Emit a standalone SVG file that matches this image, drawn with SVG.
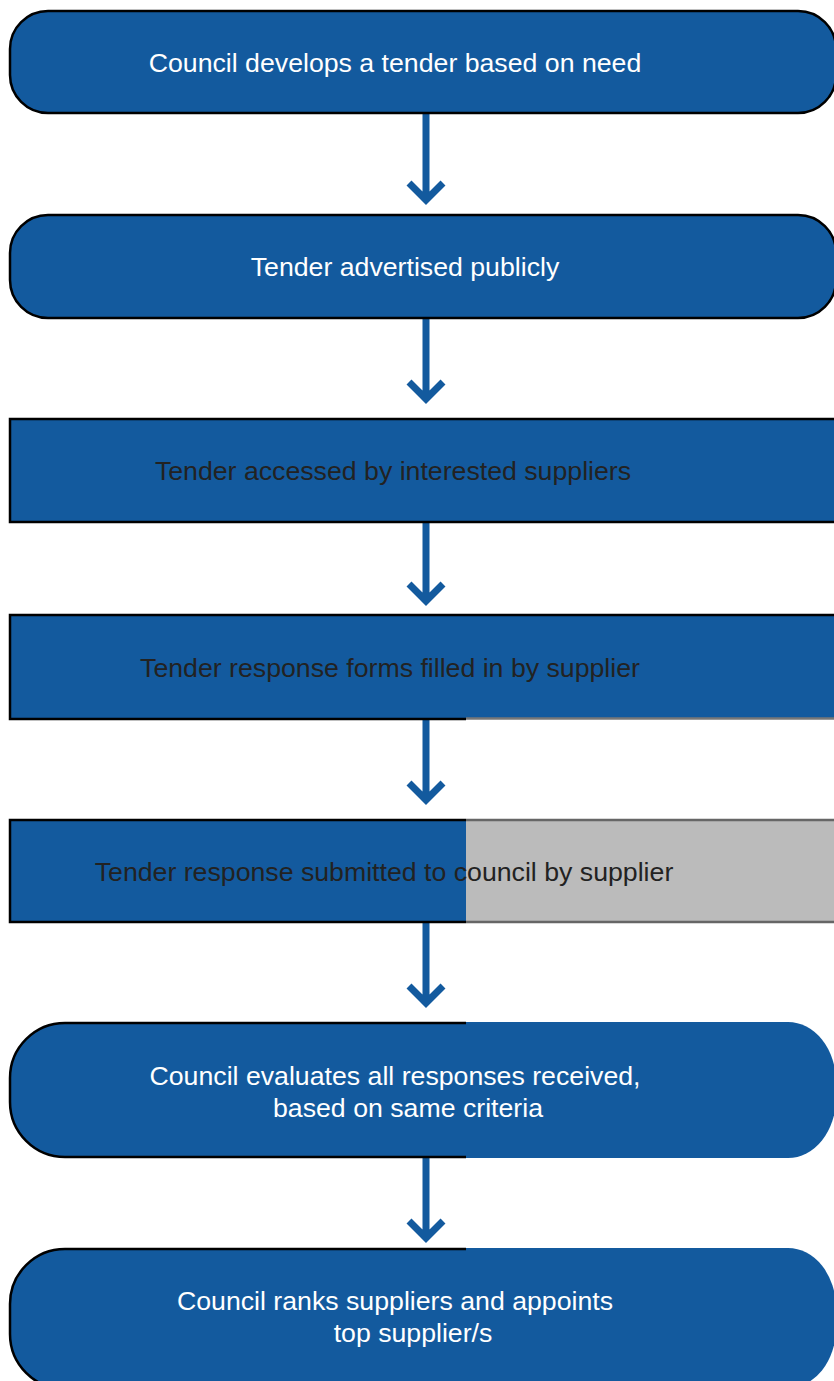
<svg xmlns="http://www.w3.org/2000/svg" width="834" height="1381" viewBox="0 0 834 1381">
<style>
.box{fill:#135a9e;stroke:#000;stroke-width:2.5}
.boxr{fill:#135a9e;stroke:none}
.tw{font-family:"Liberation Sans",Arial,sans-serif;font-size:26.7px;fill:#fff;text-anchor:middle}
.td{font-family:"Liberation Sans",Arial,sans-serif;font-size:26.7px;fill:#222;text-anchor:middle}
.arr{fill:none;stroke:#135a9e;stroke-width:7}
</style>
<defs>
<clipPath id="L"><rect x="0" y="0" width="466" height="1381"/></clipPath>
<clipPath id="R"><rect x="466" y="0" width="368" height="1381"/></clipPath>
</defs>
<rect width="834" height="1381" fill="#fff"/>
<g id="connectors">
<path class="arr" d="M426 113V199M409 183L426 200L443 183"/>
<path class="arr" d="M426 318V398M409 382L426 399L443 382"/>
<path class="arr" d="M426 522V600M409 584L426 601L443 584"/>
<path class="arr" d="M426 719V799M409 783L426 800L443 783"/>
<path class="arr" d="M426 922V1002M409 986L426 1003L443 986"/>
<path class="arr" d="M426 1157V1237M409 1221L426 1238L443 1221"/>
</g>
<g id="n1">
<rect class="box" x="10" y="11" width="826" height="102" rx="38" ry="38"/>
<text class="tw" x="395" y="72">Council develops a tender based on need</text>
</g>
<g id="n2">
<rect class="box" x="10" y="215" width="826" height="103" rx="38" ry="38"/>
<text class="tw" x="405" y="276">Tender advertised publicly</text>
</g>
<g id="n3">
<rect class="box" x="10" y="419" width="830" height="103"/>
<text class="td" x="393" y="480">Tender accessed by interested suppliers</text>
</g>
<g id="n4">
<rect class="box" x="10" y="615" width="830" height="104" clip-path="url(#L)"/>
<rect class="boxr" x="466" y="616" width="370" height="102"/>
<path d="M466 615H834" stroke="#000" stroke-width="2.5"/>
<path d="M466 718.5H834" stroke="#777" stroke-width="2.5"/>
<text class="td" x="390" y="677">Tender response forms filled in by supplier</text>
</g>
<g id="n5">
<rect class="box" x="10" y="820" width="830" height="102" clip-path="url(#L)"/>
<rect x="466" y="820" width="370" height="102" fill="#bbbbbb"/>
<path d="M466 820H834M466 922H834" stroke="#666" stroke-width="2.5"/>
<text class="td" x="384" y="881">Tender response submitted to council by supplier</text>
</g>
<g id="n6">
<rect class="box" x="10" y="1023" width="826" height="134" rx="55" ry="55" clip-path="url(#L)"/>
<rect class="boxr" x="10" y="1022" width="826" height="136" rx="48" ry="60" clip-path="url(#R)"/>
<text class="tw" x="395" y="1085">Council evaluates all responses received,</text>
<text class="tw" x="408" y="1117">based on same criteria</text>
</g>
<g id="n7">
<rect class="box" x="10" y="1249" width="826" height="140" rx="55" ry="55" clip-path="url(#L)"/>
<rect class="boxr" x="10" y="1248" width="826" height="140" rx="48" ry="60" clip-path="url(#R)"/>
<text class="tw" x="395" y="1310">Council ranks suppliers and appoints</text>
<text class="tw" x="413" y="1342">top supplier/s</text>
</g>
</svg>
